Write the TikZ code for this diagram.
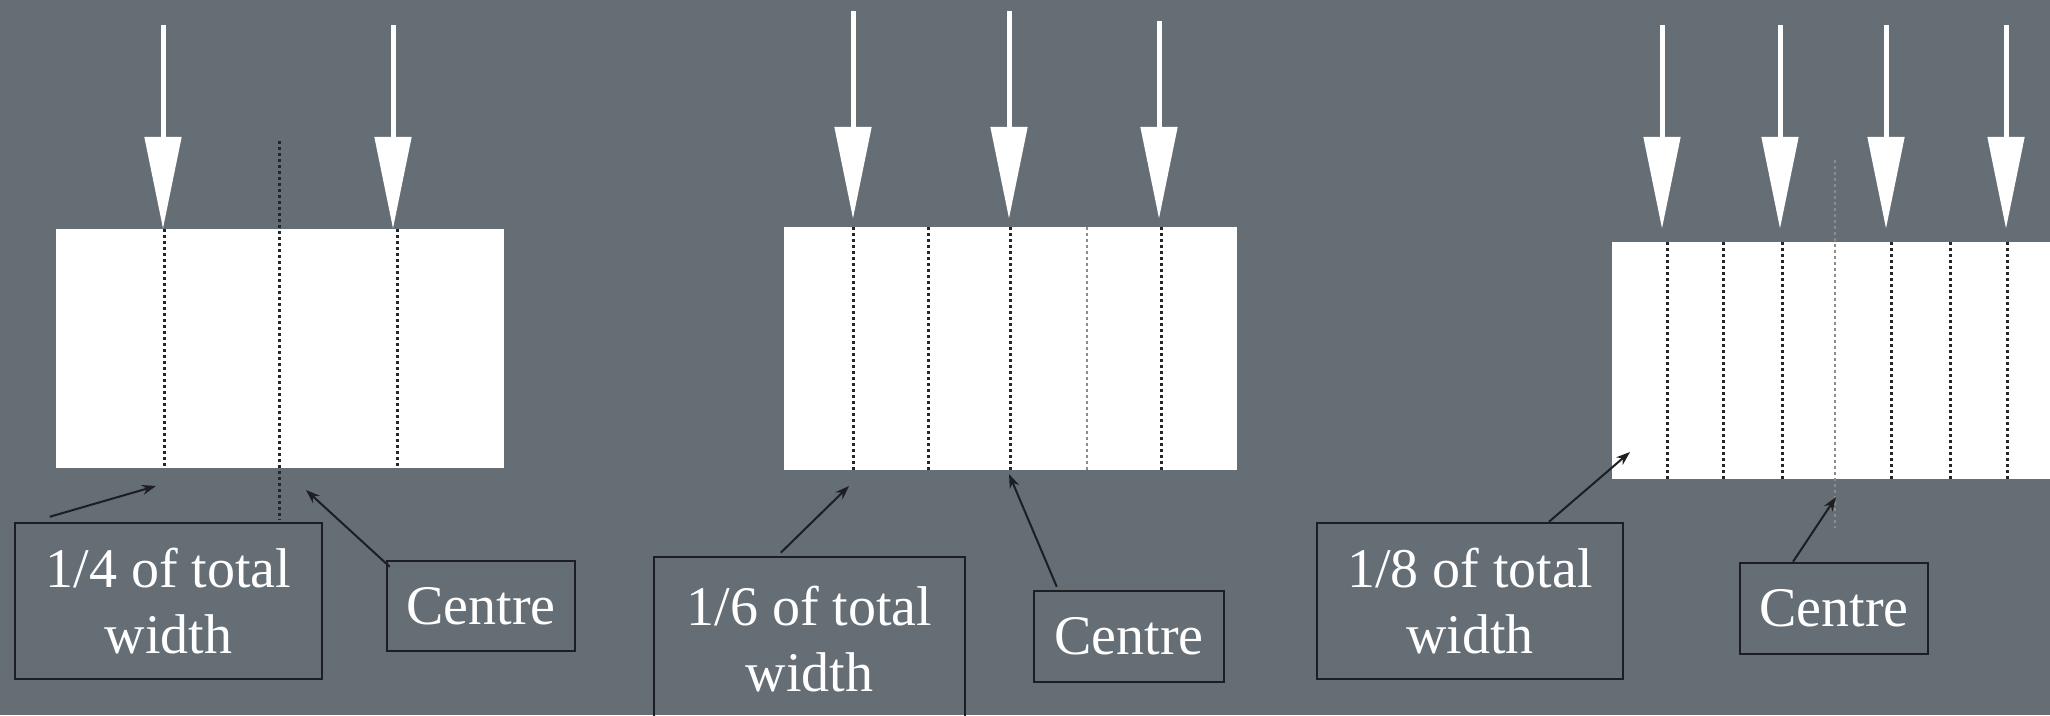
\documentclass[tikz,border=0pt]{standalone}
\usepackage{fontspec}
\setmainfont{Liberation Serif}
\usetikzlibrary{arrows.meta}
\definecolor{brushed}{RGB}{101,109,117}
\definecolor{boxline}{RGB}{28,30,34}

\begin{document}
\begin{tikzpicture}[x=1pt,y=-1pt,>=Stealth,
    slab/.style={fill=white,inner sep=0pt},
    tag/.style={draw=boxline,line width=2.5pt,inner sep=0pt,align=center,text=white,font=\fontsize{56}{66}\selectfont},
    push/.style={white,line width=5pt,-{Triangle[length=92pt,width=36pt]}},
    pointer/.style={boxline,line width=2pt,-{Stealth[length=14pt,width=10pt]}},
    cut/.style={black!85,line width=3pt,dash pattern=on 3pt off 3pt},
    faintcut/.style={cut,black!45,line width=1.8pt}]
      % Background
      \useasboundingbox (0,0) rectangle (2050,715);
      \clip (0,0) rectangle (2050,715);
      \fill[brushed] (0,0) rectangle (2050,715);
      % Beams
      \node[slab,minimum width=448pt,minimum height=239pt] (slabA) at (280,348.5) {};
      \node[slab,minimum width=453pt,minimum height=243pt] (slabB) at (1010.5,348.5) {};
      \node[slab,minimum width=446pt,minimum height=237pt] (slabC) at (1835,360.5) {};
      % Strips, quarter
      \draw[cut] (164,229) -- (164,468);
      \draw[cut] (279,141) -- (279,520);
      \draw[cut] (397,229) -- (397,468);
      % Strips, sixth
      \draw[cut] (853,227) -- (853,470);
      \draw[cut] (928,227) -- (928,470);
      \draw[cut] (1010,227) -- (1010,470);
      \draw[faintcut] (1087,227) -- (1087,470);
      \draw[cut] (1161,227) -- (1161,470);
      % Strips, eighth
      \draw[cut] (1667,242) -- (1667,479);
      \draw[cut] (1723,242) -- (1723,479);
      \draw[cut] (1782,242) -- (1782,479);
      \draw[faintcut] (1835,160) -- (1835,528);
      \draw[cut] (1891,242) -- (1891,479);
      \draw[cut] (1950,242) -- (1950,479);
      \draw[cut] (2007,242) -- (2007,479);
      % Loads
      \coordinate (loadA1) at (163,25);
      \coordinate (loadA2) at (393,25);
      \coordinate (loadB1) at (853,11);
      \coordinate (loadB2) at (1009,11);
      \coordinate (loadB3) at (1159,21);
      \coordinate (loadC1) at (1662,25);
      \coordinate (loadC2) at (1780,25);
      \coordinate (loadC3) at (1886,25);
      \coordinate (loadC4) at (2006,25);
      \draw[push] (loadA1) -- (loadA1 |- slabA.north);
      \draw[push] (loadA2) -- (loadA2 |- slabA.north);
      \draw[push,shorten >=8pt] (loadB1) -- (loadB1 |- slabB.north);
      \draw[push,shorten >=8pt] (loadB2) -- (loadB2 |- slabB.north);
      \draw[push,shorten >=8pt] (loadB3) -- (loadB3 |- slabB.north);
      \draw[push,shorten >=13pt] (loadC1) -- (loadC1 |- slabC.north);
      \draw[push,shorten >=13pt] (loadC2) -- (loadC2 |- slabC.north);
      \draw[push,shorten >=13pt] (loadC3) -- (loadC3 |- slabC.north);
      \draw[push,shorten >=13pt] (loadC4) -- (loadC4 |- slabC.north);
      % Labels
      \node[tag,minimum width=307pt,minimum height=156pt] (quarter) at (168.5,601) {1/4 of total\\width};
      \node[tag,minimum width=188pt,minimum height=90pt] (centreA) at (481,606) {Centre};
      \node[tag,minimum width=311pt,minimum height=165pt] (sixth) at (809.5,639.5) {1/6 of total\\width};
      \node[tag,minimum width=190pt,minimum height=91pt] (centreB) at (1129,636.5) {Centre};
      \node[tag,minimum width=306pt,minimum height=156pt] (eighth) at (1470,601) {1/8 of total\\width};
      \node[tag,minimum width=188pt,minimum height=91pt] (centreC) at (1834,608.5) {Centre};
      % Pointers
      \coordinate (quarterTip) at (156,486);
      \coordinate (centreATip) at (306,490);
      \coordinate (sixthTip) at (849,486);
      \coordinate (centreBTip) at (1009,474);
      \coordinate (eighthTip) at (1630,452);
      \coordinate (centreCTip) at (1836,497);
      \draw[pointer] ([xshift=36pt,yshift=5pt]quarter.north west) -- (quarterTip);
      \draw[pointer] ([xshift=4pt,yshift=-7pt]centreA.north west) -- (centreATip);
      \draw[pointer] ([xshift=128pt,yshift=3pt]sixth.north west) -- (sixthTip);
      \draw[pointer] ([xshift=24pt,yshift=3pt]centreB.north west) -- (centreBTip);
      \draw[pointer] ([xshift=79pt]eighth.north) -- (eighthTip);
      \draw[pointer] ([xshift=-41pt]centreC.north) -- (centreCTip);
    \end{tikzpicture}
\end{document}
